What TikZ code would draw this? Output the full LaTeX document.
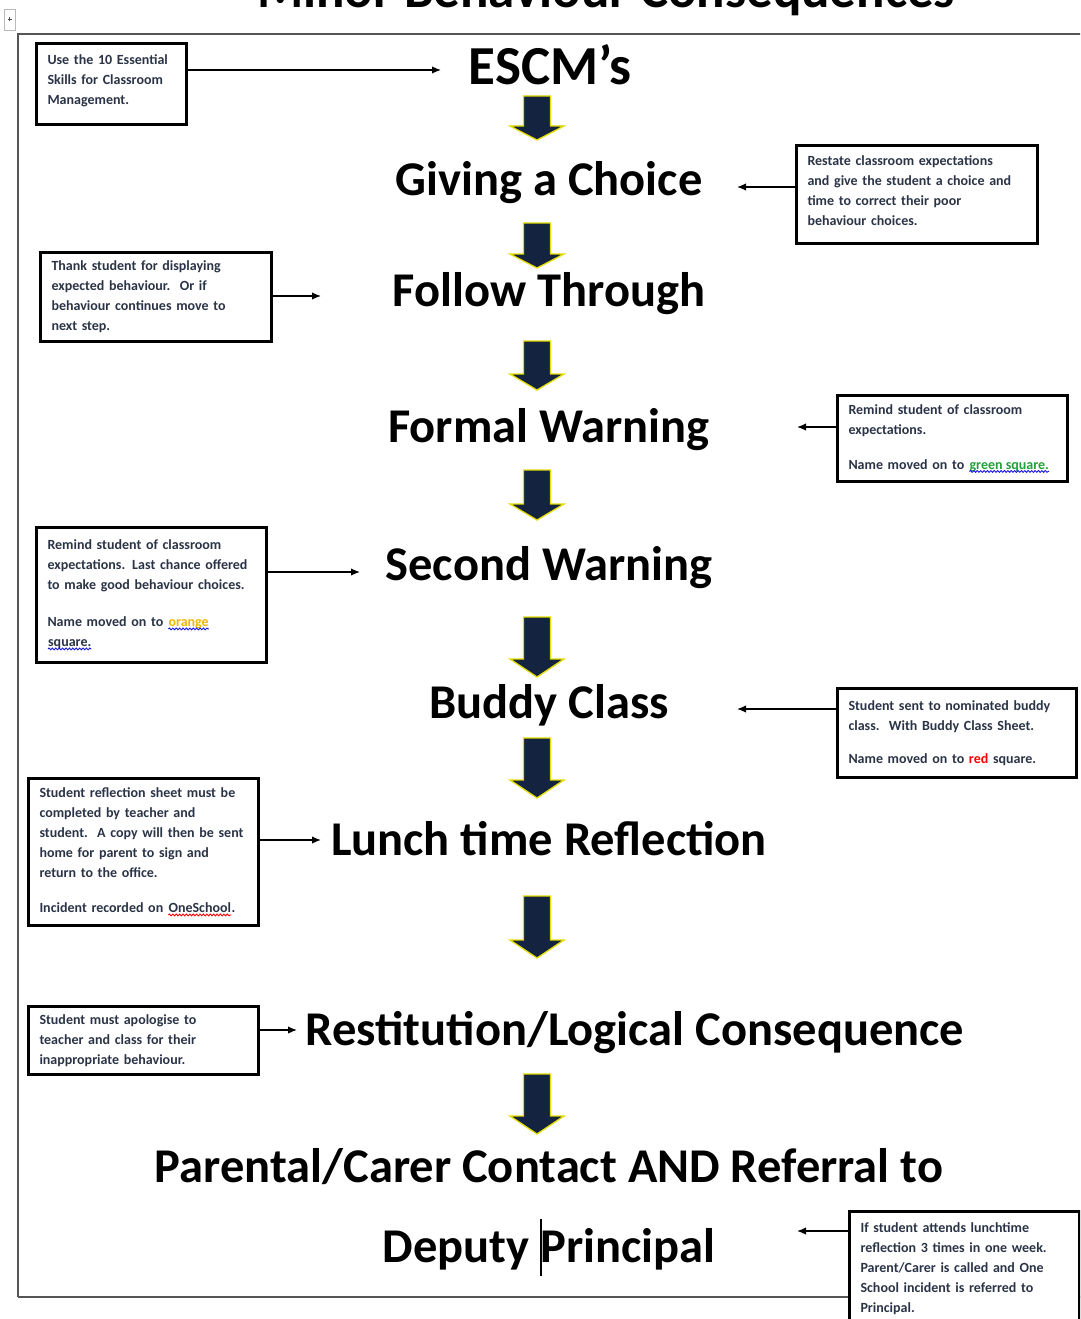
\documentclass[tikz,border=0pt]{standalone}
\usepackage{fontspec}
\setmainfont{Carlito}
\usetikzlibrary{arrows.meta,decorations.pathmorphing}

\definecolor{navy}{HTML}{14233F}
\definecolor{arrowyellow}{HTML}{E2DC00}
\definecolor{smalltxt}{HTML}{2B3447}
\definecolor{framegrey}{HTML}{555555}
\definecolor{wordgreen}{HTML}{22A03A}
\definecolor{wordorange}{HTML}{F2B600}
\definecolor{waveblue}{HTML}{1A1AE0}

% word with a wavy proofing underline: text colour, wave colour, word
\newcommand\wavyword[3]{\tikz[baseline=(w.base)]{\node[inner sep=0pt,text width=,minimum width=0pt,
    minimum height=0pt,draw=none,fill=none,anchor=center,text=#1](w) at (0,0){#3};%
  \draw[#2,line width=0.9pt,decorate,decoration={snake,amplitude=0.9pt,segment length=3.4pt}]
  ([yshift=-2.4pt]w.base west)--([yshift=-2.4pt]w.base east);}}

% navy block arrow pointing down: centre x, top y, tip y, head height
\newcommand\blockdown[4]{%
  \filldraw[fill=navy,draw=arrowyellow,line width=1.3pt,line join=miter]
  (#1-13.5,#2) -- (#1+13.5,#2) -- (#1+13.5,#3-#4) -- (#1+27,#3-#4) -- (#1,#3)
  -- (#1-27,#3-#4) -- (#1-13.5,#3-#4) -- cycle;}

\tikzset{
  stepnode/.style={anchor=base,inner sep=0pt,font=\fontsize{48.5}{54}\selectfont\bfseries},
  sidebox/.style={draw=black,line width=3pt,fill=white,anchor=north west,align=left,
    inner xsep=11pt,inner ysep=0pt,text=smalltxt,
    font=\fontsize{14}{20}\selectfont\bfseries},
  conn/.style={draw=black,line width=1.4pt,-{Latex[length=9pt,width=7.5pt]}},
}

\begin{document}
\begin{tikzpicture}[x={(1pt,0pt)},y={(0pt,-1pt)}]
\useasboundingbox (0,0) rectangle (1080,1319);
\clip (0,0) rectangle (1080,1319);
\fill[white] (0,0) rectangle (1080,1319);

% page title, running off the top edge
\node[anchor=base,inner sep=0pt,font=\fontsize{53}{58}\selectfont\bfseries] (title) at (606,8) {Minor Behaviour Consequences};

% table move handle
\draw[gray!55,line width=0.8pt] (4,9) rectangle (15,30);
\draw[black!70,line width=0.8pt] (7.5,19.5) -- (11.5,19.5) (9.5,17.5) -- (9.5,21.5);

% table frame
\draw[framegrey,line width=2pt] (18,1297) -- (18,34) -- (1090,34);
\draw[framegrey,line width=1.6pt] (18,1297) -- (1090,1297);

% main sequence of steps
\node[stepnode,font=\fontsize{55}{60}\selectfont\bfseries] (escm) at (550,85) {ESCM’s};
\node[stepnode] (choice) at (549,195) {Giving a Choice};
\node[stepnode] (follow) at (549,306) {Follow Through};
\node[stepnode] (formal) at (549,442) {Formal Warning};
\node[stepnode] (second) at (549,580) {Second Warning};
\node[stepnode] (buddy) at (549,718) {Buddy Class};
\node[stepnode] (lunch) at (549,855) {Lunch time Reflection};
\node[stepnode] (restit) at (635,1045) {Restitution/Logical Consequence};
\node[stepnode] (parent) at (549,1182) {Parental/Carer Contact AND Referral to};
\node[stepnode] (deputy) at (549,1262) {Deputy Principal};
\draw[black,line width=1.2pt] (541,1219) -- (541,1276);

% block arrows between the steps
\blockdown{537}{96}{140}{14}
\blockdown{537}{223}{268}{14}
\blockdown{537}{341}{390}{16}
\blockdown{537}{470}{520}{16}
\blockdown{537}{617}{677}{18}
\blockdown{537}{738}{798}{18}
\blockdown{537}{896}{958}{18}
\blockdown{537}{1074}{1134}{18}

% explanatory boxes
\node[sidebox,text width=128pt,minimum height=81pt] (b1) at (35,42)
  {Use the 10 Essential\\Skills for Classroom\\Management.\\[-12pt]\mbox{}};
\node[sidebox,text width=219pt,minimum height=98pt] (b2) at (795,144)
  {Restate classroom expectations\\and give the student a choice and\\time to correct their poor\\behaviour choices.\\[-12pt]\mbox{}};
\node[sidebox,text width=209pt,minimum height=89pt] (b3) at (39,251)
  {Thank student for displaying\\expected behaviour.\ \ Or if\\behaviour continues move to\\next step.};
\node[sidebox,text width=208pt,minimum height=86pt] (b4) at (836,394)
  {Remind student of classroom\\expectations.\\[15pt]Name moved on to \wavyword{wordgreen}{waveblue}{green square.}};
\node[sidebox,text width=208pt,minimum height=135pt] (b5) at (35,526)
  {Remind student of classroom\\expectations. Last chance offered\\to make good behaviour choices.\\[17pt]Name moved on to \wavyword{wordorange}{waveblue}{orange}\\\wavyword{smalltxt}{waveblue}{square.}};
\node[sidebox,text width=217pt,minimum height=89pt] (b6) at (836,687)
  {Student sent to nominated buddy\\class.\ \ With Buddy Class Sheet.\\[13pt]Name moved on to \textcolor{red}{red} square.};
\node[sidebox,text width=208pt,minimum height=147pt] (b7) at (27,777)
  {Student reflection sheet must be\\completed by teacher and\\student.\ \ A copy will then be sent\\home for parent to sign and\\return to the office.\\[15pt]Incident recorded on \wavyword{smalltxt}{red}{OneSchool}.};
\node[sidebox,text width=208pt,minimum height=68pt] (b8) at (27,1005)
  {Student must apologise to\\teacher and class for their\\inappropriate behaviour.};
\node[sidebox,text width=208pt,minimum height=114pt] (b9) at (848,1210)
  {If student attends lunchtime\\reflection 3 times in one week.\\Parent/Carer is called and One\\School incident is referred to\\Principal.};

% pointers from the boxes to the steps
\coordinate (e1) at (441,70);
\coordinate (e2) at (737,187);
\coordinate (e3) at (321,296);
\coordinate (e4) at (797,427);
\coordinate (e5) at (360,572);
\coordinate (e6) at (737,709);
\coordinate (e7) at (321,840);
\coordinate (e8) at (297,1030);
\coordinate (e9) at (797,1231);
\draw[conn] (b1.east |- e1) -- (e1);
\draw[conn] (b2.west |- e2) -- (e2);
\draw[conn] (b3.east |- e3) -- (e3);
\draw[conn] (b4.west |- e4) -- (e4);
\draw[conn] (b5.east |- e5) -- (e5);
\draw[conn] (b6.west |- e6) -- (e6);
\draw[conn] (b7.east |- e7) -- (e7);
\draw[conn] (b8.east |- e8) -- (e8);
\draw[conn] (b9.west |- e9) -- (e9);
\end{tikzpicture}
\end{document}
